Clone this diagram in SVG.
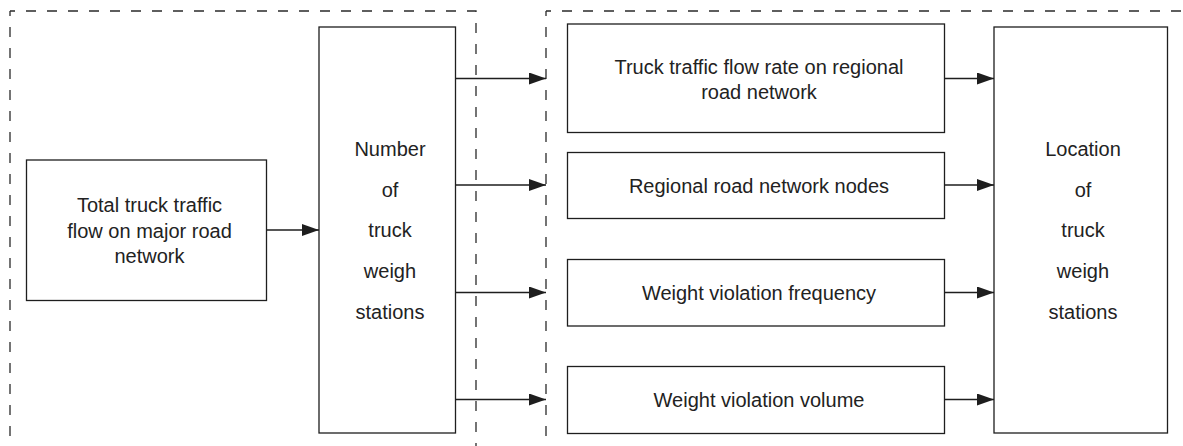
<svg xmlns="http://www.w3.org/2000/svg" width="1183" height="446" viewBox="0 0 1183 446">
  <style>
    .box { fill: #ffffff; stroke: #1e1e1e; stroke-width: 1.3; }
    .frame { fill: none; stroke: #2a2a2a; stroke-width: 1.3; stroke-dasharray: 10 11; }
    .link { fill: none; stroke: #1e1e1e; stroke-width: 1.3; marker-end: url(#head); }
    text { font-family: "Liberation Sans", Arial, sans-serif; font-size: 20px; fill: #222222; text-anchor: middle; }
  </style>
  <defs>
    <marker id="head" markerUnits="userSpaceOnUse" markerWidth="17" markerHeight="12" refX="17" refY="6" orient="auto">
      <path d="M0,0 L17,6 L0,12 Z" fill="#1e1e1e"/>
    </marker>
  </defs>

  <rect width="1183" height="446" fill="#ffffff"/>

  <!-- dashed stage frames -->
  <g id="frames">
    <path class="frame" d="M10,11 V446" stroke-dashoffset="5"/>
    <path class="frame" d="M10,11 H476 V446" stroke-dashoffset="5"/>
    <path class="frame" d="M546,11 V446" stroke-dashoffset="5"/>
    <path class="frame" d="M546,11 H1183" stroke-dashoffset="5"/>
  </g>

  <!-- connectors -->
  <g id="connectors">
    <line class="link" x1="267" y1="230" x2="319" y2="230"/>
    <line class="link" x1="456" y1="78.5" x2="546" y2="78.5"/>
    <line class="link" x1="456" y1="185" x2="546" y2="185"/>
    <line class="link" x1="456" y1="292.5" x2="546" y2="292.5"/>
    <line class="link" x1="456" y1="399.5" x2="546" y2="399.5"/>
    <line class="link" x1="945" y1="78.5" x2="994" y2="78.5"/>
    <line class="link" x1="945" y1="185" x2="994" y2="185"/>
    <line class="link" x1="945" y1="292.5" x2="994" y2="292.5"/>
    <line class="link" x1="945" y1="399.5" x2="994" y2="399.5"/>
  </g>

  <g id="total-flow">
    <rect class="box" x="26.5" y="160" width="240" height="140.5"/>
    <text x="149.5" y="212">Total truck traffic</text>
    <text x="149.5" y="237.5">flow on major road</text>
    <text x="149.5" y="262.5">network</text>
  </g>

  <g id="station-count">
    <rect class="box" x="319" y="27" width="136.5" height="406"/>
    <text x="390" y="156">Number</text>
    <text x="390" y="196.5">of</text>
    <text x="390" y="237">truck</text>
    <text x="390" y="278">weigh</text>
    <text x="390" y="319">stations</text>
  </g>

  <g id="flow-rate">
    <rect class="box" x="567.5" y="24" width="377" height="108.5"/>
    <text x="759" y="74">Truck traffic flow rate on regional</text>
    <text x="759" y="99">road network</text>
  </g>

  <g id="network-nodes">
    <rect class="box" x="567.5" y="152.5" width="377" height="66"/>
    <text x="759" y="193">Regional road network nodes</text>
  </g>

  <g id="violation-frequency">
    <rect class="box" x="567.5" y="259.5" width="377" height="66.5"/>
    <text x="759" y="300">Weight violation frequency</text>
  </g>

  <g id="violation-volume">
    <rect class="box" x="567.5" y="366.5" width="377" height="67"/>
    <text x="759" y="406.5">Weight violation volume</text>
  </g>

  <g id="station-location">
    <rect class="box" x="994" y="27" width="173.5" height="406"/>
    <text x="1083" y="156">Location</text>
    <text x="1083" y="196.5">of</text>
    <text x="1083" y="237">truck</text>
    <text x="1083" y="278">weigh</text>
    <text x="1083" y="319">stations</text>
  </g>
</svg>
